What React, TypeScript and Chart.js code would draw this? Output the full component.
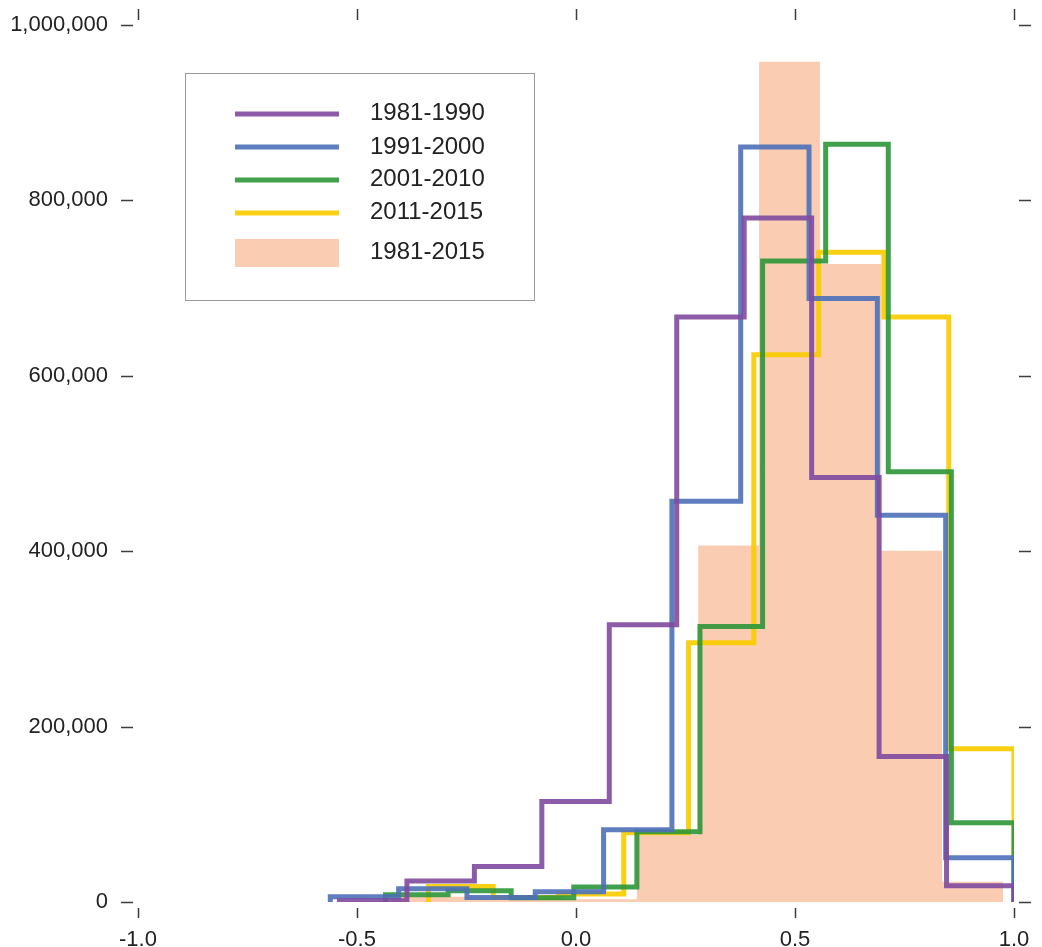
import React, { useEffect, useRef } from "react";
import { Chart, registerables } from "chart.js";

Chart.register(...registerables);

// ---- axis ticks ----
const xTickValues = [-1.0, -0.5, 0.0, 0.5, 1.0];
const xTickLabels = ["-1.0", "-0.5", "0.0", "0.5", "1.0"];
const yTickValues = [0, 200000, 400000, 600000, 800000, 1000000];
const yTickLabels = ["0", "200,000", "400,000", "600,000", "800,000", "1,000,000"];

// ---- series labels ----
const seriesLabels = ["1981-1990", "1991-2000", "2001-2010", "2011-2015", "1981-2015"];

// ---- histogram bin edges and counts ----
const edges1981_1990 = [-0.54, -0.386, -0.232, -0.078, 0.076, 0.23, 0.384, 0.538, 0.692, 0.846, 1.0];
const counts1981_1990 = [1500, 24000, 40500, 114500, 316000, 667000, 780000, 484000, 166000, 18600];

const edges1991_2000 = [-0.561, -0.405, -0.249, -0.093, 0.063, 0.219, 0.376, 0.532, 0.688, 0.844, 1.0];
const counts1991_2000 = [6000, 15000, 5200, 11700, 82400, 457000, 861000, 688000, 441000, 50500];

const edges2001_2010 = [-0.435, -0.292, -0.148, -0.005, 0.139, 0.283, 0.426, 0.57, 0.713, 0.857, 1.0];
const counts2001_2010 = [8300, 12900, 4900, 17000, 80000, 314000, 731000, 864000, 490500, 90400];

const edges2011_2015 = [-0.337, -0.189, -0.04, 0.109, 0.257, 0.406, 0.554, 0.703, 0.851, 1.0];
const counts2011_2015 = [17800, 5200, 9100, 79000, 295600, 624000, 741000, 667000, 174700];

const edges1981_2015 = [-0.557, -0.418, -0.278, -0.139, 0.0, 0.139, 0.279, 0.418, 0.557, 0.697, 0.836, 0.975];
const counts1981_2015 = [0, 6000, 6000, 3000, 3000, 76700, 406500, 958000, 727600, 400400, 23100];

// ---- colours ----
const colPurple = "rgba(128, 74, 158, 0.9)";
const colBlue = "rgba(76, 112, 184, 0.9)";
const colGreen = "rgba(44, 150, 56, 0.9)";
const colYellow = "rgba(250, 204, 0, 0.92)";
const colSalmon = "#FACDB3";

const FONT = '"Liberation Sans", Arial, Helvetica, sans-serif';

function stepPoints(edges: number[], counts: number[]) {
  const pts: { x: number; y: number }[] = [{ x: edges[0], y: 0 }];
  counts.forEach((c, i) => pts.push({ x: edges[i], y: c }));
  pts.push({ x: edges[edges.length - 1], y: 0 });
  return pts;
}

const tickMarks = {
  id: "tickMarks",
  afterDraw(chart: any) {
    const { ctx, chartArea: a, scales } = chart;
    const xs = scales.x;
    const ys = scales.y;
    ctx.save();
    ctx.strokeStyle = "#3c3c3c";
    ctx.lineWidth = 1.5;
    ctx.beginPath();
    xTickValues.forEach((v) => {
      const px = Math.round(xs.getPixelForValue(v)) + 0.5;
      ctx.moveTo(px, a.top - 16);
      ctx.lineTo(px, a.top - 5);
      ctx.moveTo(px, a.bottom + 6);
      ctx.lineTo(px, a.bottom + 16);
    });
    yTickValues.forEach((v) => {
      const py = Math.round(ys.getPixelForValue(v)) + 0.5;
      ctx.moveTo(a.left - 17, py);
      ctx.lineTo(a.left - 5, py);
      ctx.moveTo(a.right + 5, py);
      ctx.lineTo(a.right + 17, py);
    });
    ctx.stroke();
    ctx.restore();
  },
};

const boxLegend = {
  id: "boxLegend",
  afterDraw(chart: any) {
    const { ctx, chartArea: a } = chart;
    const ds = chart.data.datasets;
    const bx = a.left + 47;
    const by = a.top + 48;
    const bw = 349;
    const bh = 227;
    ctx.save();
    ctx.fillStyle = "#ffffff";
    ctx.fillRect(bx, by, bw, bh);
    ctx.strokeStyle = "#9a9a9a";
    ctx.lineWidth = 1;
    ctx.strokeRect(Math.round(bx) + 0.5, Math.round(by) + 0.5, bw, bh);
    const sx = bx + 50;
    const sw = 104;
    const tx = bx + 185;
    const rows = [41, 74, 107, 140];
    const textRows = [40, 74, 106, 139];
    ctx.font = `24px ${FONT}`;
    ctx.textBaseline = "middle";
    ctx.textAlign = "left";
    for (let i = 0; i < 4; i++) {
      ctx.strokeStyle = ds[i].borderColor;
      ctx.lineWidth = 5;
      ctx.beginPath();
      ctx.moveTo(sx, by + rows[i]);
      ctx.lineTo(sx + sw, by + rows[i]);
      ctx.stroke();
      ctx.fillStyle = "#222222";
      ctx.fillText(ds[i].label, tx, by + textRows[i]);
    }
    ctx.fillStyle = ds[4].backgroundColor;
    ctx.fillRect(sx, by + 166, sw, 28);
    ctx.fillStyle = "#222222";
    ctx.fillText(ds[4].label, tx, by + 179);
    ctx.restore();
  },
};

export default function App() {
  const canvasRef = useRef<HTMLCanvasElement | null>(null);

  useEffect(() => {
    const canvas = canvasRef.current;
    if (!canvas) return;
    const lineDs = (label: string, edges: number[], counts: number[], color: string, order: number) => ({
      type: "line" as const,
      label,
      data: stepPoints(edges, counts),
      stepped: "before" as const,
      borderColor: color,
      backgroundColor: color,
      borderWidth: 5,
      pointRadius: 0,
      pointHoverRadius: 0,
      fill: false,
      borderJoinStyle: "miter" as const,
      borderCapStyle: "butt" as const,
      order,
    });
    const chart = new Chart(canvas, {
      type: "line",
      data: {
        datasets: [
          lineDs(seriesLabels[0], edges1981_1990, counts1981_1990, colPurple, 1),
          lineDs(seriesLabels[1], edges1991_2000, counts1991_2000, colBlue, 2),
          lineDs(seriesLabels[2], edges2001_2010, counts2001_2010, colGreen, 3),
          lineDs(seriesLabels[3], edges2011_2015, counts2011_2015, colYellow, 4),
          {
            type: "line",
            label: seriesLabels[4],
            data: stepPoints(edges1981_2015, counts1981_2015),
            stepped: "before",
            borderWidth: 0,
            borderColor: colSalmon,
            backgroundColor: colSalmon,
            pointRadius: 0,
            pointHoverRadius: 0,
            fill: "origin",
            order: 10,
          } as any,
        ],
      },
      options: {
        animation: false,
        responsive: false,
        devicePixelRatio: 1,
        events: [],
        layout: { padding: { top: 25, right: 28, left: 0, bottom: 0 } },
        plugins: {
          legend: { display: false },
          tooltip: { enabled: false },
          title: { display: false },
        },
        scales: {
          x: {
            type: "linear",
            min: -1,
            max: 1,
            grid: { display: false },
            border: { display: false },
            afterBuildTicks: (s: any) => {
              s.ticks = xTickValues.map((value) => ({ value }));
            },
            afterFit: (s: any) => {
              s.height = 45;
              s.paddingLeft = 0;
              s.paddingRight = 0;
              s.paddingTop = 0;
              s.paddingBottom = 0;
            },
            ticks: {
              autoSkip: false,
              maxRotation: 0,
              padding: 17,
              color: "#222222",
              font: { family: FONT, size: 22 },
              callback: (_v: any, i: number) => xTickLabels[i],
            },
          },
          y: {
            type: "linear",
            min: 0,
            max: 1000000,
            grid: { display: false },
            border: { display: false },
            afterBuildTicks: (s: any) => {
              s.ticks = yTickValues.map((value) => ({ value }));
            },
            afterFit: (s: any) => {
              s.width = 138;
              s.paddingLeft = 0;
              s.paddingRight = 0;
              s.paddingTop = 0;
              s.paddingBottom = 0;
            },
            ticks: {
              autoSkip: false,
              padding: 22,
              color: "#222222",
              font: { family: FONT, size: 22 },
              callback: (_v: any, i: number) => yTickLabels[i],
            },
          },
        },
      },
      plugins: [tickMarks, boxLegend],
    });
    return () => chart.destroy();
  }, []);

  return (
    <div style={{ position: "fixed", left: 0, top: 0, width: 1042, height: 947, background: "#ffffff" }}>
      <canvas ref={canvasRef} width={1042} height={947} style={{ display: "block", width: 1042, height: 947 }} />
    </div>
  );
}
